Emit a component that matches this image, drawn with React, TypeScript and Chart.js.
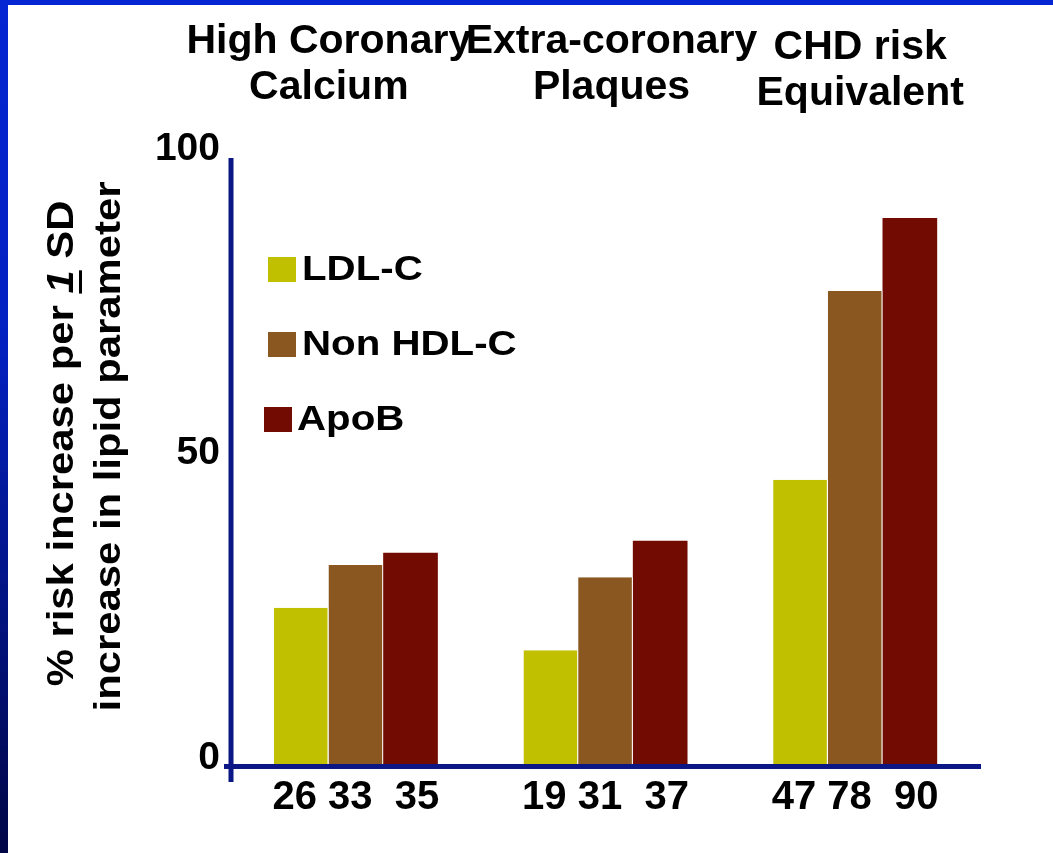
import React, { useEffect, useRef } from "react";
import { Chart, registerables } from "chart.js";

Chart.register(...registerables);

// ---- data ----
const CATEGORIES: string[][] = [
  ["High Coronary", "Calcium"],
  ["Extra-coronary", "Plaques"],
  ["CHD risk", "Equivalent"],
];
const SERIES_NAMES = ["LDL-C", "Non HDL-C", "ApoB"];
const LDL_C = [26, 19, 47];
const NON_HDL_C = [33, 31, 78];
const APO_B = [35, 37, 90];
const Y_TICKS = [0, 50, 100];
const Y_TITLE_LINE1 = ["% risk increase per ", "1", " SD"];
const Y_TITLE_LINE2 = "increase in lipid parameter";

// ---- styles ----
const COLORS = ["#C0BF00", "#8A5720", "#720B02"];
const AXIS_COLOR = "#0B1784";
const FAMILY = '"Liberation Sans", Arial, Helvetica, sans-serif';

const backgroundPlugin = {
  id: "slideBackground",
  beforeDraw(chart: any) {
    const { ctx, width, height } = chart;
    ctx.save();
    ctx.fillStyle = "#ffffff";
    ctx.fillRect(0, 0, width, height);
    const g = ctx.createLinearGradient(0, 0, 0, height);
    g.addColorStop(0, "#0526D2");
    g.addColorStop(0.4, "#0421C0");
    g.addColorStop(1, "#010646");
    ctx.fillStyle = g;
    ctx.fillRect(0, 0, 8, height);
    ctx.fillStyle = "#0526D2";
    ctx.fillRect(0, 0, width, 5);
    ctx.restore();
  },
};

const axesPlugin = {
  id: "slideAxes",
  afterDatasetsDraw(chart: any) {
    const { ctx, chartArea } = chart;
    ctx.save();
    ctx.fillStyle = AXIS_COLOR;
    // y axis line
    ctx.fillRect(chartArea.left - 2.5, chartArea.top + 1, 5, chartArea.bottom - chartArea.top + 15);
    // x axis line
    ctx.fillRect(chartArea.left - 7, chartArea.bottom - 2, chartArea.right - chartArea.left + 8, 5);
    ctx.restore();
  },
};

const TITLE_DX = [-27, 6, 5];
const TITLE_DY = [0, 0, 6];

const titlesPlugin = {
  id: "groupTitles",
  afterDraw(chart: any) {
    const { ctx } = chart;
    const xs = chart.scales.x;
    ctx.save();
    ctx.fillStyle = "#000";
    ctx.textAlign = "center";
    ctx.textBaseline = "alphabetic";
    ctx.font = `bold 41px ${FAMILY}`;
    CATEGORIES.forEach((lines, i) => {
      const x = xs.getPixelForValue(i) + TITLE_DX[i];
      lines.forEach((line, j) => {
        ctx.fillText(line, x, 53 + TITLE_DY[i] + j * 46);
      });
    });
    ctx.restore();
  },
};

type Seg = { text: string; font: string; underline?: boolean };

function drawRotated(ctx: any, segs: Seg[], cx: number, cy: number, stretch: number) {
  ctx.save();
  ctx.translate(cx, cy);
  ctx.rotate(-Math.PI / 2);
  ctx.scale(stretch, 1);
  ctx.textAlign = "left";
  ctx.textBaseline = "alphabetic";
  ctx.fillStyle = "#000";
  const widths = segs.map((s) => {
    ctx.font = s.font;
    return ctx.measureText(s.text).width;
  });
  const total = widths.reduce((a, b) => a + b, 0);
  let x = -total / 2;
  segs.forEach((s, i) => {
    ctx.font = s.font;
    ctx.fillText(s.text, x, 0);
    if (s.underline) ctx.fillRect(x, 6, widths[i], 3);
    x += widths[i];
  });
  ctx.restore();
}

const yTitlePlugin = {
  id: "yTitle",
  afterDraw(chart: any) {
    const { ctx } = chart;
    const f = `bold 37px ${FAMILY}`;
    const fi = `italic bold 37px ${FAMILY}`;
    drawRotated(
      ctx,
      [
        { text: Y_TITLE_LINE1[0], font: f },
        { text: Y_TITLE_LINE1[1], font: fi, underline: true },
        { text: Y_TITLE_LINE1[2], font: f },
      ],
      73,
      443.5,
      1.13
    );
    drawRotated(ctx, [{ text: Y_TITLE_LINE2, font: f }], 120, 446.5, 1.13);
  },
};

const LEGEND_POS = [
  { sx: 37, sy: 100, tx: 71, ty: 123 },
  { sx: 37, sy: 175, tx: 71, ty: 198 },
  { sx: 33, sy: 250, tx: 66, ty: 273 },
];

const legendPlugin = {
  id: "insideLegend",
  afterDraw(chart: any) {
    const { ctx, chartArea } = chart;
    ctx.save();
    chart.data.datasets.forEach((ds: any, i: number) => {
      const p = LEGEND_POS[i];
      ctx.fillStyle = ds.backgroundColor;
      ctx.fillRect(chartArea.left + p.sx, chartArea.top + p.sy, 28, 25);
      ctx.save();
      ctx.translate(chartArea.left + p.tx, chartArea.top + p.ty);
      ctx.scale(1.15, 1);
      ctx.fillStyle = "#000";
      ctx.font = `bold 35px ${FAMILY}`;
      ctx.textAlign = "left";
      ctx.textBaseline = "alphabetic";
      ctx.fillText(ds.label, 0, 0);
      ctx.restore();
    });
    ctx.restore();
  },
};

export default function App() {
  const ref = useRef<HTMLCanvasElement>(null);
  useEffect(() => {
    const canvas = ref.current;
    if (!canvas) return;
    const series = [LDL_C, NON_HDL_C, APO_B];
    const chart = new Chart(canvas, {
      type: "bar",
      data: {
        labels: CATEGORIES as any,
        datasets: series.map((d, i) => ({
          label: SERIES_NAMES[i],
          data: d,
          backgroundColor: COLORS[i],
          borderColor: "#ffffff",
          borderWidth: i < 2 ? { top: 0, right: 1, bottom: 0, left: 0 } : 0,
          borderSkipped: false,
        })),
      },
      options: {
        responsive: false,
        animation: false,
        devicePixelRatio: 1,
        layout: { padding: { top: 157, right: 73, left: 0, bottom: 0 } },
        datasets: { bar: { categoryPercentage: 0.657, barPercentage: 1 } },
        plugins: {
          legend: { display: false },
          tooltip: { enabled: false },
          title: { display: false },
        },
        scales: {
          x: {
            type: "category",
            grid: { display: false, drawTicks: false },
            border: { display: false },
            afterFit: (s: any) => {
              s.height = 87;
            },
            ticks: {
              color: "#000",
              font: { family: FAMILY, size: 40, weight: "bold" },
              padding: 8,
              maxRotation: 0,
              autoSkip: false,
              callback: (_v: any, i: number) => `${LDL_C[i]} ${NON_HDL_C[i]}  ${APO_B[i]}`,
            },
          },
          y: {
            min: Y_TICKS[0],
            max: Y_TICKS[Y_TICKS.length - 1],
            grid: { display: false, drawTicks: false },
            border: { display: false },
            afterFit: (s: any) => {
              s.width = 231;
            },
            afterBuildTicks: (s: any) => {
              s.ticks = Y_TICKS.map((v) => ({ value: v }));
            },
            ticks: {
              color: "#000",
              font: { family: FAMILY, size: 39, weight: "bold" },
              padding: 11,
              labelOffset: -8,
            },
          },
        },
      } as any,
      plugins: [backgroundPlugin, axesPlugin, titlesPlugin, yTitlePlugin, legendPlugin],
    });
    return () => chart.destroy();
  }, []);

  return (
    <div style={{ position: "fixed", left: 0, top: 0, width: 1053, height: 853 }}>
      <canvas ref={ref} width={1053} height={853} style={{ display: "block" }} />
    </div>
  );
}
